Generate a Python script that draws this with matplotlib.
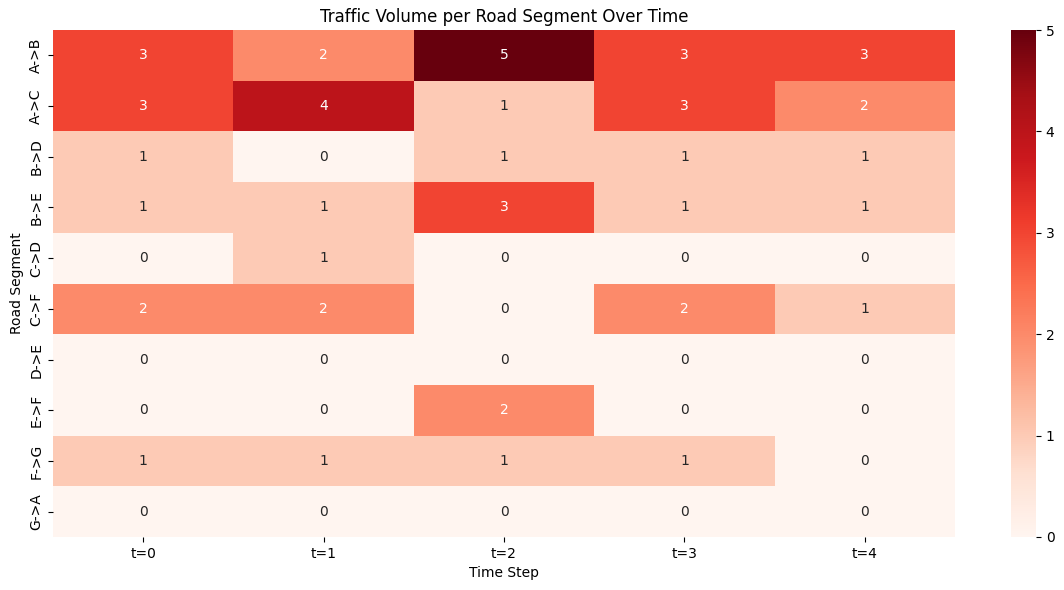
import numpy as np
import pandas as pd
import seaborn as sns
import matplotlib
matplotlib.use("Agg")
import matplotlib.pyplot as plt

segments = ["A->B", "A->C", "B->D", "B->E", "C->D", "C->F", "D->E", "E->F", "F->G", "G->A"]
time_steps = ["t=0", "t=1", "t=2", "t=3", "t=4"]

volumes = [
    [3, 2, 5, 3, 3],
    [3, 4, 1, 3, 2],
    [1, 0, 1, 1, 1],
    [1, 1, 3, 1, 1],
    [0, 1, 0, 0, 0],
    [2, 2, 0, 2, 1],
    [0, 0, 0, 0, 0],
    [0, 0, 2, 0, 0],
    [1, 1, 1, 1, 0],
    [0, 0, 0, 0, 0],
]


def main():
    df = pd.DataFrame(np.array(volumes), index=segments, columns=time_steps)

    W, H = 1064, 590
    fig = plt.figure(figsize=(W / 100, H / 100), dpi=100)
    # place axes by pixel to match the original layout
    ax = fig.add_axes([53 / W, (H - 537) / H, (955 - 53) / W, (537 - 30) / H])
    cax = fig.add_axes([1011 / W, (H - 537) / H, 25 / W, (537 - 30) / H])

    sns.heatmap(df, annot=True, fmt="d", cmap="Reds", ax=ax, cbar_ax=cax)
    ax.set_title("Traffic Volume per Road Segment Over Time")
    ax.set_xlabel("Time Step")
    ax.set_ylabel("Road Segment")
    fig.savefig("out.png", dpi=100)
    plt.close(fig)


if __name__ == "__main__":
    main()
